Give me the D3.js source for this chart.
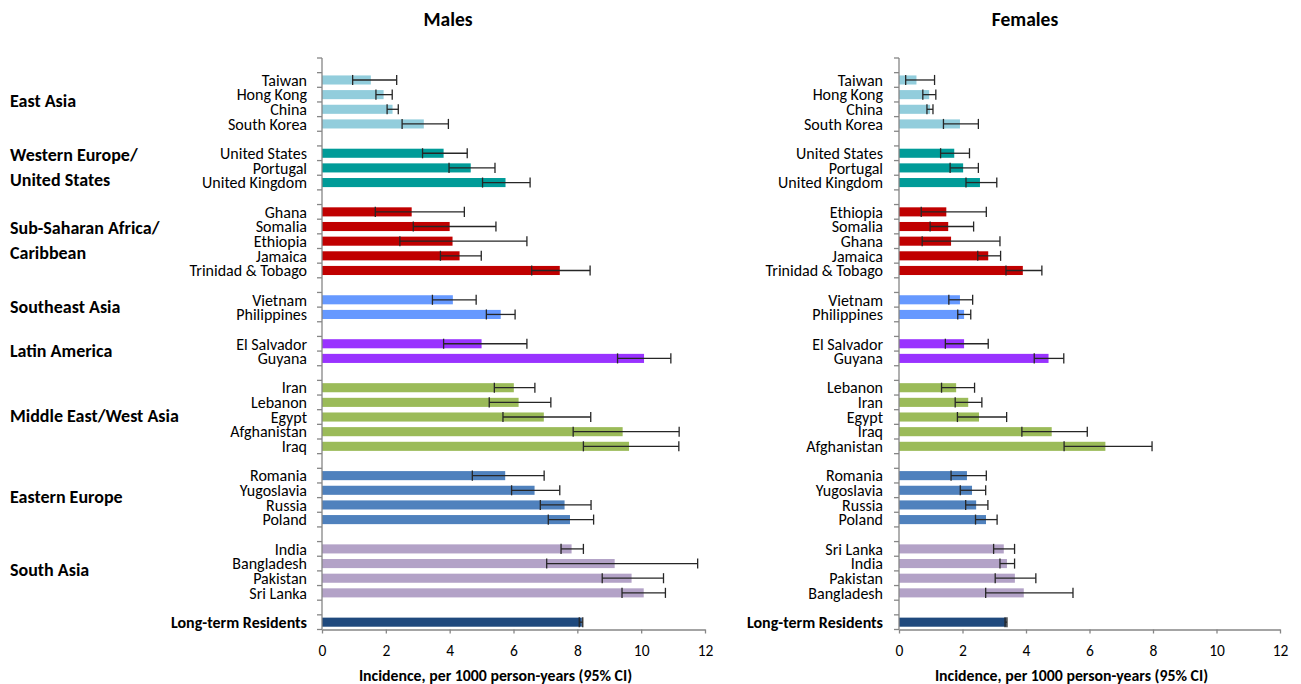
<!DOCTYPE html>
<html>
<head>
<meta charset="utf-8">
<script src="https://cdn.jsdelivr.net/npm/d3@7"></script>
<style>
  body { margin: 0; background: #fff; }
  svg text { font-family: Carlito, Calibri, Lato, sans-serif; fill: #000; }
</style>
</head>
<body>
<div id="chart"></div>
<script>
// region groups, top to bottom (last one is the reference group)
const groupNames = [
  ["East Asia"],
  ["Western Europe/", "United States"],
  ["Sub-Saharan Africa/", "Caribbean"],
  ["Southeast Asia"],
  ["Latin America"],
  ["Middle East/West Asia"],
  ["Eastern Europe"],
  ["South Asia"],
  []
];
const groupSizes = [4, 3, 5, 2, 2, 5, 4, 4, 1];
const groupColors = ["#92cddc", "#009b98", "#c00000", "#6699ff", "#9933ff",
  "#9bbb59", "#4f81bd", "#b3a2c7", "#1f497d"];

const ticks = [0, 2, 4, 6, 8, 10, 12];

const maleCountries = ["Taiwan", "Hong Kong", "China", "South Korea",
  "United States", "Portugal", "United Kingdom",
  "Ghana", "Somalia", "Ethiopia", "Jamaica", "Trinidad & Tobago",
  "Vietnam", "Philippines",
  "El Salvador", "Guyana",
  "Iran", "Lebanon", "Egypt", "Afghanistan", "Iraq",
  "Romania", "Yugoslavia", "Russia", "Poland",
  "India", "Bangladesh", "Pakistan", "Sri Lanka",
  "Long-term Residents"];
const maleRate = [1.53, 1.93, 2.21, 3.19, 3.81, 4.66, 5.75,
  2.81, 4.00, 4.09, 4.31, 7.45, 4.10, 5.60, 5.00, 10.09,
  6.01, 6.16, 6.95, 9.42, 9.62, 5.74, 6.66, 7.60, 7.77,
  7.82, 9.17, 9.70, 10.08, 8.14];
const maleLow = [0.96, 1.69, 2.04, 2.51, 3.15, 3.98, 5.03,
  1.67, 2.86, 2.44, 3.71, 6.57, 3.46, 5.15, 3.81, 9.26,
  5.40, 5.24, 5.67, 7.87, 8.19, 4.71, 5.94, 6.84, 7.09,
  7.49, 7.04, 8.78, 9.40, 8.06];
const maleHigh = [2.34, 2.20, 2.39, 3.96, 4.55, 5.42, 6.52,
  4.46, 5.45, 6.42, 4.99, 8.40, 4.83, 6.05, 6.42, 10.93,
  6.67, 7.17, 8.42, 11.19, 11.18, 6.96, 7.45, 8.43, 8.51,
  8.19, 11.77, 10.70, 10.76, 8.17];

const femaleCountries = ["Taiwan", "Hong Kong", "China", "South Korea",
  "United States", "Portugal", "United Kingdom",
  "Ethiopia", "Somalia", "Ghana", "Jamaica", "Trinidad & Tobago",
  "Vietnam", "Philippines",
  "El Salvador", "Guyana",
  "Lebanon", "Iran", "Egypt", "Iraq", "Afghanistan",
  "Romania", "Yugoslavia", "Russia", "Poland",
  "Sri Lanka", "India", "Pakistan", "Bangladesh",
  "Long-term Residents"];
const femaleRate = [0.55, 0.95, 0.98, 1.92, 1.74, 2.02, 2.55,
  1.49, 1.55, 1.64, 2.81, 3.90, 1.92, 2.05, 2.05, 4.71,
  1.80, 2.18, 2.52, 4.81, 6.50, 2.14, 2.30, 2.43, 2.74,
  3.30, 3.40, 3.65, 3.93, 3.38];
const femaleLow = [0.21, 0.75, 0.88, 1.40, 1.31, 1.61, 2.11,
  0.70, 0.98, 0.73, 2.48, 3.37, 1.57, 1.85, 1.46, 4.26,
  1.34, 1.77, 1.84, 3.87, 5.20, 1.64, 1.93, 2.10, 2.41,
  2.98, 3.18, 3.03, 2.73, 3.34];
const femaleHigh = [1.12, 1.16, 1.07, 2.50, 2.22, 2.50, 3.08,
  2.75, 2.35, 3.18, 3.20, 4.50, 2.32, 2.26, 2.81, 5.19,
  2.38, 2.61, 3.39, 5.93, 7.97, 2.75, 2.73, 2.80, 3.09,
  3.64, 3.64, 4.31, 5.48, 3.40];

const axisTitle = "Incidence, per 1000 person-years (95% CI)";

const width = 1301, height = 684;
const svg = d3.select("#chart").append("svg")
  .attr("width", width)
  .attr("height", height);

// build rows with an empty spacer slot before every group
function buildRows(countries, rate, low, high) {
  let rows = [];
  let k = 0;
  groupSizes.forEach((n, g) => {
    rows.push({ key: "gap" + g, gap: true, group: g });
    for (let i = 0; i < n; i++) {
      rows.push({
        key: "r" + k, name: countries[k], rate: rate[k],
        low: low[k], high: high[k], group: g
      });
      k++;
    }
  });
  return rows;
}

function drawPanel(opts) {
  const rows = buildRows(opts.countries, opts.rate, opts.low, opts.high);

  const x = d3.scaleLinear().domain([0, 12]).range([opts.x0, opts.x1]);
  const y = d3.scaleBand()
    .domain(rows.map(d => d.key))
    .range([58, 629.5])
    .paddingInner(0.38)
    .paddingOuter(0.19);
  const step = y.step();
  const off = step * 0.19;

  const g = svg.append("g");

  // bars
  const data = rows.filter(d => !d.gap);
  g.selectAll("rect.bar")
    .data(data)
    .join("rect")
    .attr("class", "bar")
    .attr("x", x(0))
    .attr("y", d => y(d.key))
    .attr("width", d => x(d.rate) - x(0))
    .attr("height", y.bandwidth())
    .attr("fill", d => groupColors[d.group]);

  // error bars
  const eb = g.selectAll("g.err")
    .data(data)
    .join("g")
    .attr("class", "err")
    .attr("stroke", "#262626")
    .attr("stroke-width", 1.3);
  eb.append("line")
    .attr("x1", d => x(d.low)).attr("x2", d => x(d.high))
    .attr("y1", d => y(d.key) + y.bandwidth() / 2)
    .attr("y2", d => y(d.key) + y.bandwidth() / 2);
  ["low", "high"].forEach(f => {
    eb.append("line")
      .attr("x1", d => x(d[f])).attr("x2", d => x(d[f]))
      .attr("y1", d => y(d.key) - 0.5)
      .attr("y2", d => y(d.key) + y.bandwidth() + 0.5);
  });

  // y axis line + ticks at slot boundaries
  const bounds = rows.map(d => y(d.key) - off).concat([629.5]);
  g.append("line")
    .attr("x1", x(0)).attr("x2", x(0))
    .attr("y1", 58).attr("y2", 629.5)
    .attr("stroke", "#868686").attr("stroke-width", 1.3);
  g.selectAll("line.ytick")
    .data(bounds)
    .join("line")
    .attr("class", "ytick")
    .attr("x1", x(0) - 5).attr("x2", x(0))
    .attr("y1", d => d).attr("y2", d => d)
    .attr("stroke", "#868686").attr("stroke-width", 1.3);

  // x axis
  const xAxis = d3.axisBottom(x).tickValues(ticks).tickSize(4).tickSizeOuter(0);
  const ax = g.append("g")
    .attr("transform", "translate(0,629.5)")
    .call(xAxis);
  ax.select(".domain").attr("stroke", "#868686").attr("stroke-width", 1.3);
  ax.selectAll(".tick line").attr("stroke", "#868686").attr("stroke-width", 1.3);
  ax.selectAll(".tick text")
    .attr("y", 15)
    .attr("dy", "0.71em")
    .style("font-size", "15.5px")
    .style("font-family", "Carlito, Calibri, Lato, sans-serif")
    .attr("fill", "#000");

  // country labels
  g.selectAll("text.country")
    .data(data)
    .join("text")
    .attr("class", "country")
    .attr("x", opts.labelX)
    .attr("y", d => y(d.key) + y.bandwidth() / 2)
    .attr("dy", "0.36em")
    .attr("text-anchor", "end")
    .style("font-size", "16px")
    .style("font-weight", d => d.name == "Long-term Residents" ? "bold" : "normal")
    .text(d => d.name);

  // titles
  svg.append("text")
    .attr("x", opts.titleX).attr("y", 26)
    .attr("text-anchor", "middle")
    .style("font-size", "19.5px").style("font-weight", "bold")
    .text(opts.title);
  svg.append("text")
    .attr("x", (x(0) + x(12)) / 2 - 18).attr("y", 681)
    .attr("text-anchor", "middle")
    .style("font-size", "15.8px").style("font-weight", "bold")
    .text(axisTitle);

  // region labels (left panel only)
  if (opts.groupLabels) {
    groupNames.forEach((lines, gi) => {
      if (!lines.length) return;
      const members = data.filter(d => d.group == gi);
      const top = y(members[0].key) - off;
      const bot = y(members[members.length - 1].key) + y.bandwidth() + off;
      const mid = (top + bot) / 2 - 1;
      lines.forEach((t, li) => {
        svg.append("text")
          .attr("x", 10)
          .attr("y", mid + (li - (lines.length - 1) / 2) * 25)
          .attr("dy", "0.36em")
          .style("font-size", "18px").style("font-weight", "bold")
          .text(t);
      });
    });
  }
}

drawPanel({
  title: "Males", titleX: 448, x0: 322, x1: 705, labelX: 307,
  countries: maleCountries, rate: maleRate, low: maleLow, high: maleHigh,
  groupLabels: true
});
drawPanel({
  title: "Females", titleX: 1025, x0: 899, x1: 1280, labelX: 883,
  countries: femaleCountries, rate: femaleRate, low: femaleLow, high: femaleHigh,
  groupLabels: false
});
</script>
</body>
</html>
